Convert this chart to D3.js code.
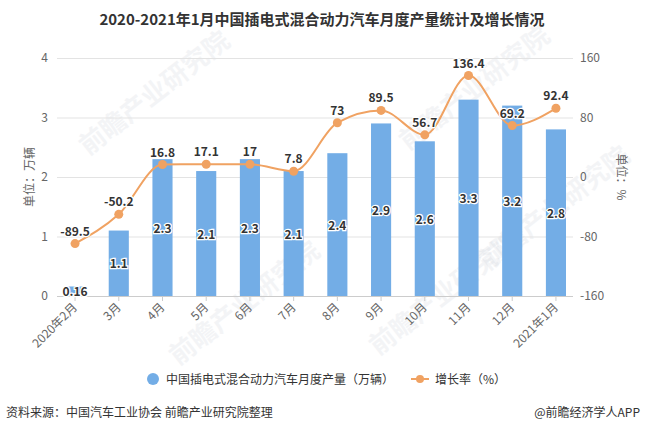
<!DOCTYPE html>
<html>
<head>
<meta charset="utf-8">
<script src="https://cdn.jsdelivr.net/npm/d3@7"></script>
<style>
  body { margin: 0; background: #fff; }
  svg text { font-family: "Noto Sans CJK SC", "Microsoft YaHei", sans-serif; }
</style>
</head>
<body>
<svg id="chart" width="645" height="434"></svg>
<script>
// chart data
var months = ["2020年2月", "3月", "4月", "5月", "6月", "7月", "8月", "9月", "10月", "11月", "12月", "2021年1月"];
var output = [0.16, 1.1, 2.3, 2.1, 2.3, 2.1, 2.4, 2.9, 2.6, 3.3, 3.2, 2.8];
var growth = [-89.5, -50.2, 16.8, 17.1, 17, 7.8, 73, 89.5, 56.7, 136.4, 69.2, 92.4];
var leftTicks = [0, 1, 2, 3, 4];
var rightTicks = [-160, -80, 0, 80, 160];

var barColor = "#73ade6", lineColor = "#f0a262";

var svg = d3.select("#chart");
var plot = { left: 57, right: 573, top: 58, bottom: 296 };

var x = d3.scaleBand().domain(months).range([65, 566]).paddingInner(0.54);
var yL = d3.scaleLinear().domain([0, 4]).range([plot.bottom, plot.top]);
var yR = d3.scaleLinear().domain([-160, 160]).range([plot.bottom, plot.top]);

// watermarks (faint)
var marks = [{x: 160, y: 100}, {x: 250, y: 310}, {x: 450, y: 300}, {x: 480, y: 95}, {x: 560, y: 215}];
svg.append("g").selectAll("text").data(marks).enter().append("text")
    .attr("transform", function(d) { return "translate(" + d.x + "," + d.y + ") rotate(-38)"; })
    .attr("text-anchor", "middle")
    .style("font-size", "26px").style("font-weight", "bold")
    .style("fill", "#c8cdd6").style("opacity", 0.2)
    .text("前瞻产业研究院");

// title
svg.append("text").attr("x", 322).attr("y", 25).attr("text-anchor", "middle")
    .style("font-size", "15px").style("font-weight", "bold").style("fill", "#333")
    .text("2020-2021年1月中国插电式混合动力汽车月度产量统计及增长情况");

// grid
svg.append("g").selectAll("line").data(leftTicks).enter().append("line")
    .attr("x1", plot.left).attr("x2", plot.right)
    .attr("y1", function(d) { return yL(d) + 0.5; }).attr("y2", function(d) { return yL(d) + 0.5; })
    .style("stroke", function(d) { return d === 0 ? "#ccc" : "#e3e3e3"; });

// axis labels
svg.append("g").selectAll("text").data(leftTicks).enter().append("text")
    .attr("x", 48).attr("y", function(d) { return yL(d) + 4; })
    .attr("text-anchor", "end").style("font-size", "12px").style("fill", "#666")
    .text(function(d) { return d; });
svg.append("g").selectAll("text").data(rightTicks).enter().append("text")
    .attr("x", 580).attr("y", function(d) { return yR(d) + 4; })
    .style("font-size", "12px").style("fill", "#666")
    .text(function(d) { return d; });

svg.append("text").attr("transform", "translate(34,177) rotate(-90)").attr("text-anchor", "middle")
    .style("font-size", "12px").style("fill", "#666").text("单位：万辆");
svg.append("text").attr("transform", "translate(617,177) rotate(90)").attr("text-anchor", "middle")
    .style("font-size", "12px").style("fill", "#666").text("单位：%");

// x ticks + labels
var xg = svg.append("g");
xg.selectAll("line").data(months).enter().append("line")
    .attr("x1", function(d) { return x(d) + x.bandwidth() / 2; })
    .attr("x2", function(d) { return x(d) + x.bandwidth() / 2; })
    .attr("y1", plot.bottom).attr("y2", plot.bottom + 5)
    .style("stroke", "#ccc");
xg.selectAll("text").data(months).enter().append("text")
    .attr("transform", function(d) {
        return "translate(" + (x(d) + x.bandwidth() / 2 + 3) + "," + (plot.bottom + 12) + ") rotate(-45)";
    })
    .attr("text-anchor", "end").style("font-size", "12px").style("fill", "#666")
    .text(function(d) { return d; });

// bars
svg.append("g").selectAll("rect").data(output).enter().append("rect")
    .attr("x", function(d, i) { return x(months[i]); })
    .attr("width", x.bandwidth())
    .attr("y", function(d) { return yL(d); })
    .attr("height", function(d) { return plot.bottom - yL(d); })
    .style("fill", barColor);

// line
var line = d3.line()
    .x(function(d, i) { return x(months[i]) + x.bandwidth() / 2; })
    .y(function(d) { return yR(d); })
    .curve(d3.curveMonotoneX);
svg.append("path").datum(growth).attr("d", line)
    .style("fill", "none").style("stroke", lineColor).style("stroke-width", 2);
svg.append("g").selectAll("circle").data(growth).enter().append("circle")
    .attr("cx", function(d, i) { return x(months[i]) + x.bandwidth() / 2; })
    .attr("cy", function(d) { return yR(d); })
    .attr("r", 4.5).style("fill", lineColor);

// value labels
function label(g, data, xf, yf) {
    g.selectAll("text").data(data).enter().append("text")
        .attr("x", xf).attr("y", yf).attr("text-anchor", "middle")
        .style("font-size", "12px").style("font-weight", "bold")
        .style("fill", "#333").style("stroke", "#fff").style("stroke-width", 2.5)
        .style("paint-order", "stroke")
        .text(function(d) { return d; });
}
label(svg.append("g"), output,
    function(d, i) { return x(months[i]) + x.bandwidth() / 2; },
    function(d) { return (yL(d) + plot.bottom) / 2 + 5; });
label(svg.append("g"), growth,
    function(d, i) { return x(months[i]) + x.bandwidth() / 2; },
    function(d) { return yR(d) - 8; });

// legend
var lg = svg.append("g");
lg.append("circle").attr("cx", 153).attr("cy", 379).attr("r", 6).style("fill", barColor);
lg.append("text").attr("x", 166).attr("y", 384).style("font-size", "12px").style("fill", "#333")
    .text("中国插电式混合动力汽车月度产量（万辆）");
lg.append("line").attr("x1", 411).attr("x2", 429).attr("y1", 379).attr("y2", 379)
    .style("stroke", lineColor).style("stroke-width", 2);
lg.append("circle").attr("cx", 420).attr("cy", 379).attr("r", 4).style("fill", lineColor);
lg.append("text").attr("x", 435).attr("y", 384).style("font-size", "12px").style("fill", "#333")
    .text("增长率（%）");

// footer
svg.append("text").attr("x", 6).attr("y", 417).style("font-size", "12px").style("fill", "#333")
    .text("资料来源：中国汽车工业协会 前瞻产业研究院整理");
svg.append("text").attr("x", 640).attr("y", 417).attr("text-anchor", "end")
    .style("font-size", "12px").style("fill", "#333").text("@前瞻经济学人APP");
</script>
</body>
</html>
